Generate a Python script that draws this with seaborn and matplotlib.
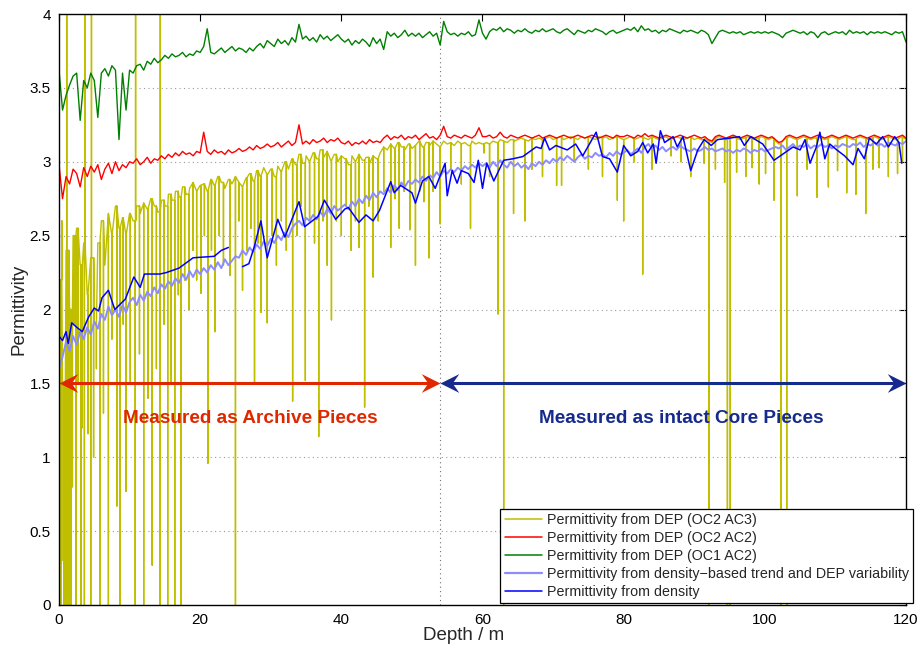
import numpy as np
import pandas as pd
import matplotlib
matplotlib.use("Agg")
import matplotlib.pyplot as plt
from matplotlib.path import Path
from matplotlib.lines import Line2D
import seaborn as sns

# ---------------------------------------------------------------- data
# regular depth grid (m) for the DEP logs and the density trend
depth_grid = [i * 0.5 for i in range(241)]

eps_oc1_ac2 = [
    3.62, 3.35, 3.45, 3.52, 3.58, 3.60, 3.28, 3.55, 3.50, 3.60, 3.55, 3.30, 3.60, 3.63, 3.58, 3.65, 3.62, 3.15, 3.60, 3.35, 3.62,
    3.60, 3.65, 3.66, 3.62, 3.68, 3.66, 3.70, 3.67, 3.69, 3.72, 3.70, 3.73, 3.71, 3.72, 3.74, 3.71, 3.73, 3.72, 3.75, 3.74,
    3.78, 3.90, 3.74, 3.73, 3.75, 3.77, 3.74, 3.76, 3.78, 3.75, 3.77, 3.76, 3.74, 3.77, 3.75, 3.78, 3.80, 3.77, 3.82, 3.80,
    3.78, 3.83, 3.80, 3.82, 3.79, 3.84, 3.81, 3.93, 3.83, 3.85, 3.82, 3.84, 3.81, 3.86, 3.83, 3.85, 3.82, 3.84, 3.86, 3.83,
    3.81, 3.83, 3.79, 3.82, 3.80, 3.83, 3.81, 3.78, 3.84, 3.80, 3.83, 3.76, 3.88, 3.85, 3.87, 3.84, 3.86, 3.89, 3.85, 3.87,
    3.85, 3.87, 3.84, 3.86, 3.88, 3.85, 3.87, 3.79, 3.95, 3.88, 3.86, 3.87, 3.85, 3.87, 3.86, 3.88, 3.85, 3.86, 3.96, 3.87,
    3.83, 3.88, 3.90, 3.89, 3.91, 3.88, 3.90, 3.89, 3.87, 3.89, 3.88, 3.90, 3.88, 3.87, 3.89, 3.88, 3.90, 3.88, 3.89, 3.90,
    3.88, 3.87, 3.89, 3.90, 3.88, 3.86, 3.89, 3.88, 3.87, 3.89, 3.88, 3.90, 3.89, 3.88, 3.86, 3.88, 3.89, 3.87, 3.88, 3.89,
    3.90, 3.89, 3.91, 3.88, 3.92, 3.89, 3.90, 3.88, 3.89, 3.87, 3.89, 3.88, 3.90, 3.89, 3.88, 3.87, 3.89, 3.88, 3.89, 3.88,
    3.87, 3.89, 3.88, 3.86, 3.80, 3.84, 3.88, 3.89, 3.88, 3.87, 3.88, 3.87, 3.88, 3.86, 3.87, 3.88, 3.87, 3.88, 3.87, 3.88,
    3.87, 3.88, 3.87, 3.86, 3.84, 3.87, 3.88, 3.89, 3.88, 3.87, 3.88, 3.86, 3.88, 3.87, 3.84, 3.87, 3.88, 3.86, 3.87, 3.88,
    3.87, 3.88, 3.86, 3.89, 3.87, 3.88, 3.87, 3.88, 3.86, 3.88, 3.87, 3.88, 3.87, 3.88, 3.87, 3.86, 3.88, 3.87, 3.88, 3.81,
]

eps_oc2_ac2 = [
    2.98, 2.75, 2.90, 2.85, 2.95, 2.92, 2.83, 2.96, 2.90, 2.97, 2.93, 2.98, 2.88, 2.95, 2.99, 2.92, 3.00, 2.94, 2.98, 2.96, 3.00,
    2.99, 3.02, 2.98, 3.00, 3.03, 2.99, 3.02, 3.01, 3.04, 3.02, 3.05, 3.03, 3.06, 3.04, 3.07, 3.05, 3.06, 3.04, 3.07, 3.06,
    3.20, 3.07, 3.05, 3.08, 3.06, 3.07, 3.05, 3.08, 3.06, 3.07, 3.09, 3.07, 3.08, 3.10, 3.08, 3.11, 3.09, 3.10, 3.12, 3.10,
    3.11, 3.13, 3.10, 3.12, 3.14, 3.11, 3.13, 3.25, 3.12, 3.14, 3.12, 3.15, 3.13, 3.14, 3.16, 3.13, 3.15, 3.14, 3.16, 3.13,
    3.12, 3.14, 3.11, 3.13, 3.12, 3.14, 3.12, 3.15, 3.13, 3.14, 3.13, 3.16, 3.18, 3.15, 3.17, 3.16, 3.18, 3.15, 3.17, 3.16,
    3.18, 3.15, 3.17, 3.19, 3.16, 3.17, 3.15, 3.18, 3.24, 3.17, 3.16, 3.18, 3.17, 3.16, 3.18, 3.17, 3.16, 3.18, 3.23, 3.17,
    3.17, 3.18, 3.16, 3.17, 3.20, 3.17, 3.16, 3.18, 3.17, 3.16, 3.17, 3.18, 3.17, 3.16, 3.17, 3.18, 3.16, 3.17, 3.18, 3.17,
    3.16, 3.17, 3.18, 3.17, 3.16, 3.17, 3.18, 3.17, 3.16, 3.17, 3.18, 3.17, 3.16, 3.17, 3.18, 3.17, 3.16, 3.18, 3.17, 3.17,
    3.18, 3.17, 3.16, 3.18, 3.17, 3.19, 3.17, 3.18, 3.17, 3.16, 3.17, 3.18, 3.17, 3.16, 3.17, 3.18, 3.17, 3.16, 3.17, 3.18,
    3.17, 3.16, 3.17, 3.15, 3.14, 3.17, 3.18, 3.17, 3.16, 3.17, 3.18, 3.17, 3.16, 3.17, 3.18, 3.17, 3.16, 3.17, 3.18, 3.17,
    3.16, 3.17, 3.15, 3.13, 3.14, 3.17, 3.18, 3.17, 3.16, 3.17, 3.18, 3.17, 3.16, 3.17, 3.18, 3.17, 3.16, 3.17, 3.18, 3.17,
    3.16, 3.17, 3.18, 3.17, 3.16, 3.17, 3.18, 3.17, 3.16, 3.17, 3.18, 3.17, 3.16, 3.17, 3.18, 3.17, 3.16, 3.17, 3.18, 3.16,
]

# smooth background of the OC2 AC3 log; isolated outliers are listed separately
eps_oc2_ac3_base = [
    2.20, 1.50, 2.40, 2.00, 2.50, 2.55, 2.30, 2.45, 2.10, 2.35, 1.90, 2.45, 2.60, 2.30, 2.65, 2.50, 2.70, 2.55, 2.62, 2.50, 2.65,
    2.60, 2.70, 2.65, 2.72, 2.68, 2.75, 2.70, 2.66, 2.74, 2.70, 2.78, 2.74, 2.80, 2.76, 2.83, 2.78, 2.82, 2.86, 2.80, 2.84,
    2.85, 2.80, 2.88, 2.84, 2.90, 2.86, 2.82, 2.88, 2.85, 2.90, 2.86, 2.83, 2.89, 2.92, 2.87, 2.94, 2.90, 2.96, 2.91, 2.95,
    2.90, 2.97, 2.93, 3.00, 2.95, 3.02, 2.98, 3.05, 2.99, 3.04, 3.00, 3.06, 3.02, 3.08, 3.03, 3.07, 3.01, 3.05, 3.00, 3.04,
    3.02, 2.98, 3.04, 3.00, 3.05, 3.01, 3.03, 2.99, 3.04, 3.02, 3.06, 3.10, 3.08, 3.12, 3.09, 3.13, 3.10, 3.08, 3.12, 3.09,
    3.11, 3.14, 3.10, 3.13, 3.11, 3.14, 3.12, 3.10, 3.14, 3.12, 3.13, 3.11, 3.14, 3.12, 3.13, 3.11, 3.14, 3.12, 3.13, 3.12,
    3.13, 3.12, 3.14, 3.13, 3.15, 3.14, 3.13, 3.15, 3.14, 3.15, 3.16, 3.15, 3.14, 3.16, 3.15, 3.16, 3.15, 3.16, 3.17, 3.15,
    3.16, 3.17, 3.15, 3.16, 3.17, 3.16, 3.15, 3.17, 3.16, 3.17, 3.16, 3.15, 3.17, 3.16, 3.17, 3.15, 3.16, 3.17, 3.16, 3.15,
    3.16, 3.17, 3.15, 3.16, 3.17, 3.16, 3.15, 3.17, 3.16, 3.15, 3.16, 3.17, 3.15, 3.16, 3.17, 3.16, 3.15, 3.16, 3.17, 3.15,
    3.16, 3.15, 3.16, 3.14, 3.13, 3.16, 3.17, 3.16, 3.15, 3.16, 3.17, 3.16, 3.15, 3.16, 3.17, 3.16, 3.15, 3.16, 3.17, 3.16,
    3.15, 3.16, 3.14, 3.12, 3.14, 3.16, 3.17, 3.16, 3.15, 3.16, 3.17, 3.16, 3.15, 3.16, 3.17, 3.16, 3.15, 3.16, 3.17, 3.16,
    3.15, 3.16, 3.17, 3.16, 3.15, 3.16, 3.17, 3.16, 3.15, 3.16, 3.17, 3.16, 3.15, 3.16, 3.17, 3.16, 3.15, 3.16, 3.17, 3.15,
]

# OC2 AC3 outliers: depth (m) and permittivity
spike_depth = [
    0.1, 0.2, 0.3, 0.4, 0.6, 0.7, 0.8, 0.9, 1.1, 1.15, 1.3, 1.4, 1.6, 1.7, 1.9, 2.1, 2.4, 2.7, 3.1, 3.3,
    3.6, 3.7, 4.1, 4.5, 4.6, 4.9, 5.3, 5.8, 6.3, 7.0, 7.5, 8.2, 8.65, 9.1, 9.5, 10.1, 10.8, 10.85, 11.4, 12.0,
    12.6, 13.2, 13.8, 14.3, 14.35, 14.9, 15.4, 15.9, 16.4, 16.9, 17.3, 17.8, 18.4, 19.0, 19.5, 20.1, 20.6, 21.1, 21.6, 22.1,
    22.7, 23.3, 24.2, 25.0, 25.5, 26.0, 26.6, 27.2, 27.7, 28.2, 28.6, 29.5, 30.2, 30.8, 31.5, 32.2, 33.1, 33.7, 34.3, 34.9,
    35.5, 36.2, 36.8, 37.4, 38.0, 38.6, 39.3, 40.0, 40.7, 41.4, 42.0, 42.5, 43.3, 43.9, 44.5, 45.2, 46.0, 47.0, 47.6, 48.2,
    48.9, 49.7, 50.5, 51.1, 51.7, 52.4, 53.0, 54.0, 55.5, 57.0, 58.3, 60.2, 61.0, 62.2, 63.0, 64.4, 66.0, 67.0, 68.5, 70.5,
    71.2, 73.0, 75.0, 77.0, 79.1, 80.0, 81.5, 82.7, 84.0, 86.7, 88.1, 89.5, 91.4, 92.1, 93.0, 94.3, 94.7, 95.1, 96.0, 97.3,
    98.2, 99.2, 100.1, 101.3, 102.3, 103.1, 104.6, 106.0, 107.4, 109.0, 110.3, 111.6, 112.9, 114.3, 115.3, 116.2, 117.5, 118.8, 119.5,
]
spike_value = [
    0.0, 1.2, 0.0, 2.6, 0.3, 0.0, 1.0, 0.0, 4.5, 0.0, 0.6, 0.0, 1.4, 0.0, 0.8, 1.9, 0.0, 1.5, 0.0, 1.2,
    0.0, 4.5, 1.16, 0.0, 4.5, 1.0, 1.6, 0.0, 1.3, 0.0, 1.8, 0.67, 0.0, 1.9, 0.77, 1.5, 0.0, 4.5, 1.7, 0.0,
    1.4, 0.27, 1.6, 0.0, 4.5, 1.9, 0.0, 1.5, 0.0, 2.1, 0.0, 2.2, 2.0, 2.4, 2.2, 2.11, 2.5, 0.96, 2.4, 1.85,
    2.5, 2.3, 2.23, 0.0, 2.6, 2.13, 2.4, 2.55, 1.51, 2.45, 1.98, 1.91, 2.5, 2.3, 2.6, 2.4, 1.38, 2.5, 2.7, 1.52,
    2.6, 2.45, 1.14, 2.6, 2.3, 1.93, 2.6, 2.5, 2.7, 2.4, 2.6, 2.42, 1.34, 2.7, 2.22, 2.6, 2.8, 2.42, 2.75, 2.55,
    2.8, 2.54, 2.30, 2.8, 2.73, 2.35, 2.8, 2.58, 2.95, 2.85, 2.55, 3.06, 2.9, 1.97, 0.0, 2.65, 2.60, 2.95, 2.9, 2.84,
    2.84, 3.0, 2.95, 2.9, 2.74, 2.6, 3.0, 2.24, 2.95, 3.04, 3.0, 2.9, 2.99, 0.0, 2.95, 2.86, 0.0, 0.0, 2.93, 2.9,
    2.96, 2.85, 2.92, 2.74, 0.0, 0.0, 2.77, 2.95, 2.76, 2.83, 2.94, 2.79, 2.78, 2.65, 2.95, 2.96, 2.9, 2.92, 3.0,
]

eps_density_trend = [
    1.60, 1.68, 1.78, 1.72, 1.82, 1.76, 1.85, 1.80, 1.88, 1.83, 1.92, 1.87, 1.97, 1.93, 2.02, 1.96, 2.00, 1.95, 2.03, 1.98, 2.05,
    2.08, 2.03, 2.10, 2.06, 2.12, 2.09, 2.15, 2.11, 2.17, 2.14, 2.19, 2.16, 2.21, 2.18, 2.24, 2.20, 2.26, 2.22, 2.27, 2.24,
    2.28, 2.25, 2.30, 2.27, 2.32, 2.28, 2.34, 2.30, 2.33, 2.36, 2.35, 2.40, 2.37, 2.42, 2.39, 2.44, 2.41, 2.46, 2.43, 2.48,
    2.45, 2.50, 2.47, 2.52, 2.49, 2.55, 2.58, 2.60, 2.57, 2.62, 2.60, 2.64, 2.61, 2.66, 2.63, 2.68, 2.65, 2.70, 2.67, 2.69,
    2.71, 2.68, 2.73, 2.70, 2.75, 2.72, 2.77, 2.74, 2.79, 2.76, 2.80, 2.78, 2.82, 2.79, 2.84, 2.81, 2.86, 2.83, 2.87, 2.85,
    2.88, 2.86, 2.90, 2.87, 2.91, 2.89, 2.93, 2.90, 2.94, 2.92, 2.95, 2.93, 2.96, 2.94, 2.97, 2.95, 2.98, 2.96, 2.99, 2.97,
    2.99, 2.96, 3.00, 2.97, 3.01, 2.98, 2.96, 3.00, 2.97, 2.99, 2.96, 2.98, 2.95, 2.99, 2.97, 3.00, 2.98, 3.01, 2.99, 3.02,
    3.00, 3.03, 3.01, 3.04, 3.02, 3.00, 3.03, 3.05, 3.02, 3.04, 3.03, 3.06, 3.04, 3.05, 3.03, 3.06, 3.04, 3.07, 3.05, 3.06,
    3.08, 3.05, 3.07, 3.09, 3.06, 3.10, 3.12, 3.09, 3.11, 3.08, 3.10, 3.07, 3.09, 3.10, 3.08, 3.11, 3.09, 3.08, 3.07, 3.09,
    3.07, 3.08, 3.10, 3.08, 3.09, 3.07, 3.08, 3.09, 3.07, 3.08, 3.06, 3.08, 3.07, 3.09, 3.08, 3.06, 3.08, 3.07, 3.09, 3.07,
    3.08, 3.09, 3.10, 3.09, 3.11, 3.08, 3.10, 3.12, 3.09, 3.11, 3.10, 3.12, 3.09, 3.11, 3.10, 3.12, 3.10, 3.11, 3.09, 3.11,
    3.10, 3.12, 3.11, 3.10, 3.12, 3.11, 3.13, 3.10, 3.12, 3.11, 3.13, 3.11, 3.12, 3.10, 3.13, 3.12, 3.11, 3.13, 3.12, 3.14,
]

# permittivity computed from density samples; two runs with a gap near 25 m
density_depth_a = [0.0, 0.5, 1.0, 1.3, 1.8, 2.5, 3.3, 4.2, 5.0, 5.6, 6.1, 7.0, 7.9, 9.4, 10.6, 11.5,
                   12.1, 14.3, 15.2, 17.0, 19.0, 22.0, 23.0, 24.0]
density_eps_a = [1.82, 1.79, 1.85, 1.77, 1.91, 1.88, 1.85, 1.95, 2.01, 1.99, 2.08, 2.13, 2.00, 2.07, 2.22, 2.15,
                 2.24, 2.24, 2.25, 2.28, 2.35, 2.36, 2.40, 2.42]
density_depth_b = [
    26.0, 26.9, 27.7, 28.6, 29.5, 31.0, 32.0, 34.0, 34.8, 36.7, 37.6, 39.2, 40.5, 41.0, 42.5, 43.5, 44.5, 45.4,
    47.0, 47.5, 48.4, 50.0, 50.5, 51.5, 52.4, 53.3, 54.7, 55.0, 55.7, 56.4, 57.0, 58.0, 58.8, 59.4, 60.0, 60.6,
    61.6, 63.0, 64.3, 65.7, 67.6, 68.3, 68.8, 69.5, 70.4, 72.0, 73.2, 74.2, 76.1, 77.0, 78.0, 79.1, 80.0, 81.0,
    82.0, 82.7, 83.4, 84.2, 84.6, 85.2, 85.8, 87.0, 87.6, 88.4, 89.5, 90.5, 91.4, 92.4, 93.3, 95.0, 96.4, 97.1,
    98.0, 99.7, 101.3, 104.0, 105.0, 105.7, 106.4, 107.3, 107.8, 108.5, 109.2, 110.2, 111.3, 112.5, 113.2, 114.1,
    114.8, 115.8, 116.7, 117.5, 118.4, 119.0, 119.4,
]
density_eps_b = [
    2.29, 2.31, 2.43, 2.60, 2.35, 2.61, 2.49, 2.73, 2.56, 2.63, 2.74, 2.61, 2.68, 2.69, 2.59, 2.64, 2.60, 2.67,
    2.865, 2.79, 2.84, 2.79, 2.72, 2.87, 2.90, 2.82, 2.99, 2.77, 2.94, 2.855, 2.94, 2.92, 2.86, 3.01, 2.82, 2.99,
    2.87, 3.01, 3.02, 3.035, 3.10, 3.09, 3.16, 3.08, 3.11, 3.08, 3.12, 3.04, 3.20, 3.035, 3.02, 2.93, 3.11, 3.04,
    3.07, 3.13, 3.06, 3.12, 2.99, 3.21, 3.13, 3.17, 3.10, 3.17, 2.94, 3.08, 3.15, 3.11, 3.15, 3.16, 3.17, 3.11,
    3.17, 3.12, 3.01, 3.10, 3.08, 3.15, 2.99, 3.10, 3.20, 3.02, 3.12, 3.08, 3.04, 2.98, 3.09, 3.02,
    3.16, 3.12, 3.17, 3.10, 3.17, 3.13, 2.99,
]

series_labels = [
    "Permittivity from DEP (OC2 AC3)",
    "Permittivity from DEP (OC2 AC2)",
    "Permittivity from DEP (OC1 AC2)",
    "Permittivity from density\u2212based trend and DEP variability",
    "Permittivity from density",
]
series_colors = ["#BFBF00", "#FF0000", "#008000", "#8C8CFF", "#0000FF"]

section_split = 54.0
section_texts = ["Measured as Archive Pieces", "Measured as intact Core Pieces"]
section_colors = ["#E02800", "#152A8C"]

# ---------------------------------------------------------------- style
sns.set_theme(style="white")
plt.rcParams["font.family"] = ["Liberation Sans", "DejaVu Sans"]
plt.rcParams["axes.linewidth"] = 1.0

fig = plt.figure(figsize=(9.17, 6.46), dpi=100)
ax = fig.add_axes([59 / 917, 41 / 646, 847 / 917, 591 / 646])

# ---------------------------------------------------------------- series
# OC2 AC3: each outlier is a single-sample excursion from the running log,
# drawn as a vertical jump away from and back to the current log value
yx, yy = [], []
k = 0
order = np.argsort(spike_depth, kind="stable")
sd = [spike_depth[i] for i in order]
sv = [spike_value[i] for i in order]
for i, d in enumerate(depth_grid):
    yx.append(d)
    yy.append(eps_oc2_ac3_base[i])
    nxt = depth_grid[i + 1] if i + 1 < len(depth_grid) else np.inf
    while k < len(sd) and d <= sd[k] < nxt:
        yx += [sd[k], sd[k], sd[k]]
        yy += [eps_oc2_ac3_base[i], sv[k], eps_oc2_ac3_base[i]]
        k += 1
yellow = pd.DataFrame({"depth": yx, "eps": yy})
sns.lineplot(data=yellow, x="depth", y="eps", estimator=None, sort=False,
             color=series_colors[0], lw=1.0, ax=ax, zorder=2)

red = pd.DataFrame({"depth": depth_grid, "eps": eps_oc2_ac2})
sns.lineplot(data=red, x="depth", y="eps", estimator=None,
             color=series_colors[1], lw=1.0, ax=ax, zorder=3)

green = pd.DataFrame({"depth": depth_grid, "eps": eps_oc1_ac2})
sns.lineplot(data=green, x="depth", y="eps", estimator=None,
             color=series_colors[2], lw=1.0, ax=ax, zorder=3)

trend = pd.DataFrame({"depth": depth_grid, "eps": eps_density_trend})
sns.lineplot(data=trend, x="depth", y="eps", estimator=None,
             color=series_colors[3], lw=1.4, ax=ax, zorder=4)

dens = pd.DataFrame({
    "depth": density_depth_a + density_depth_b,
    "eps": density_eps_a + density_eps_b,
    "run": [0] * len(density_depth_a) + [1] * len(density_depth_b),
})
sns.lineplot(data=dens, x="depth", y="eps", units="run", estimator=None,
             color=series_colors[4], lw=1.1, ax=ax, zorder=5)

# ---------------------------------------------------------------- axes
ax.set_xlim(0, 120)
ax.set_ylim(0, 4)
ax.set_xticks(np.arange(0, 121, 20))
ax.set_yticks(np.arange(0, 4.01, 0.5))
ax.yaxis.set_major_formatter(matplotlib.ticker.FormatStrFormatter("%g"))
ax.tick_params(direction="in", length=5, width=0.8, top=True, right=True,
               labelsize=11, colors="black", pad=6)
for s in ax.spines.values():
    s.set_color("black")
    s.set_linewidth(1.0)
    s.set_zorder(10)

for yv in np.arange(0.5, 4.0, 0.5):
    ax.axhline(yv, color="#9A9A9A", lw=0.8, ls=(0, (1, 3)), zorder=1)
ax.axvline(section_split, color="#707070", lw=0.8, ls=(0, (1, 3)), zorder=1)

ax.set_xlabel("Depth / m", fontsize=13.5, va="center")
ax.set_ylabel("Permittivity", fontsize=13.5, va="center")
ax.xaxis.set_label_coords((464 - 59) / 847, -(636 - 605) / 591)
ax.yaxis.set_label_coords(-(59 - 19) / 847, 0.5)

# ---------------------------------------------------------------- section arrows
head_right = Path([(0, 0), (-2, 1), (-1.3, 0), (-2, -1), (0, 0)],
                  [Path.MOVETO, Path.LINETO, Path.LINETO, Path.LINETO, Path.CLOSEPOLY])
head_left = Path([(0, 0), (2, 1), (1.3, 0), (2, -1), (0, 0)],
                 [Path.MOVETO, Path.LINETO, Path.LINETO, Path.LINETO, Path.CLOSEPOLY])
arrow_y = 1.5
spans = [(0.0, section_split), (section_split, 120.0)]
for (x0, x1), col in zip(spans, section_colors):
    ax.plot([x0 + 0.8, x1 - 0.8], [arrow_y, arrow_y], color=col, lw=2.2,
            solid_capstyle="butt", zorder=8)
    ax.plot([x0], [arrow_y], marker=head_left, ms=27, color=col, ls="",
            markeredgewidth=0, zorder=9, clip_on=False)
    ax.plot([x1], [arrow_y], marker=head_right, ms=27, color=col, ls="",
            markeredgewidth=0, zorder=9, clip_on=False)

ax.text(27.1, 1.26, section_texts[0], color=section_colors[0], fontsize=13.7,
        fontweight="bold", ha="center", va="center", zorder=9)
ax.text(88.1, 1.26, section_texts[1], color=section_colors[1], fontsize=13.7,
        fontweight="bold", ha="center", va="center", zorder=9)

# ---------------------------------------------------------------- legend
handles = [Line2D([0], [0], color=c, lw=(1.6 if i == 3 else 1.1))
           for i, c in enumerate(series_colors)]
if ax.get_legend() is not None:
    ax.get_legend().remove()
leg = ax.legend(handles, series_labels, loc="lower right",
                bbox_to_anchor=(913 / 917, (646 - 603) / 646),
                bbox_transform=fig.transFigure, fontsize=10.3, frameon=True,
                fancybox=False, framealpha=1, edgecolor="black",
                borderpad=0.3, labelspacing=0.27, handlelength=2.6,
                handletextpad=0.35, borderaxespad=0)
leg.get_frame().set_linewidth(0.9)
leg.set_zorder(12)

fig.savefig("out.png", dpi=100)
